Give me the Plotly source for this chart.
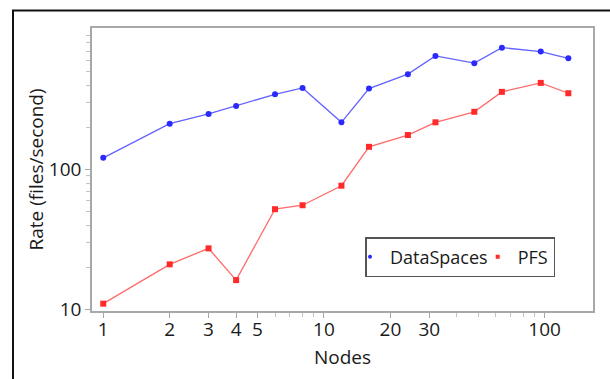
import plotly.graph_objects as go

# Throughput measurements per node count
nodes = [1, 2, 3, 4, 6, 8, 12, 16, 24, 32, 48, 64, 96, 128]
dataspaces_rate = [121, 212, 249, 284, 344, 382, 217, 378, 479, 647, 574, 741, 694, 622]
pfs_rate = [11.0, 21.0, 27.3, 16.2, 52.0, 55.5, 76.5, 145, 176, 217, 258, 358, 415, 350]

x_tick_vals = [1, 2, 3, 4, 5, 10, 20, 30, 100]
x_tick_text = ["1", "2", "3", "4", "5", "10", "20", "30", "100"]
x_minor_vals = [6, 7, 8, 9, 40, 50, 60, 70, 80, 90]
y_tick_vals = [10, 100]
y_tick_text = ["10", "100"]
y_minor_vals = [20, 30, 40, 50, 60, 70, 80, 90, 200, 300, 400, 500, 600, 700, 800, 900]

FONT = "Open Sans"
TXT = "#1a1a1a"
AXIS_GRAY = "#a8a8a8"
BLUE_MARK = "#2a2aff"
RED_MARK = "#ff2a2a"

fig = go.Figure()
fig.add_trace(go.Scatter(
    x=nodes, y=dataspaces_rate, name="DataSpaces", mode="lines+markers",
    line=dict(color="rgba(70,70,255,0.85)", width=1.3),
    marker=dict(symbol="circle", size=6, color=BLUE_MARK),
    legendgroup="ds", showlegend=False,
))
fig.add_trace(go.Scatter(
    x=nodes, y=pfs_rate, name="PFS", mode="lines+markers",
    line=dict(color="rgba(255,80,80,0.85)", width=1.3),
    marker=dict(symbol="square", size=6, color=RED_MARK),
    legendgroup="pfs", showlegend=False,
))
# Legend entries show only a small marker, no line
fig.add_trace(go.Scatter(
    x=[None], y=[None], name="DataSpaces", mode="markers",
    marker=dict(symbol="circle", size=4, color=BLUE_MARK),
    legendgroup="ds", showlegend=True,
))
fig.add_trace(go.Scatter(
    x=[None], y=[None], name="PFS", mode="markers",
    marker=dict(symbol="square", size=4, color=RED_MARK),
    legendgroup="pfs", showlegend=True,
))

L, R, T, B = 92, 17, 28, 68
W, H = 610, 379
pw, ph = W - L - R, H - T - B


def px_x(p):
    return (p - L) / pw


def px_y(p):
    return (H - B - p) / ph


fig.update_layout(
    width=W, height=H,
    margin=dict(l=L, r=R, t=T, b=B),
    paper_bgcolor="white", plot_bgcolor="white",
    font=dict(family=FONT, size=19, color=TXT),
    showlegend=True,
    legend=dict(
        orientation="h",
        x=px_x(365), y=px_y(237), xanchor="left", yanchor="top",
        bgcolor="white", bordercolor="#555555", borderwidth=1.5,
        font=dict(family=FONT, size=18, color=TXT),
        itemsizing="trace", itemwidth=30,
        indentation=-15,
        tracegroupgap=0,
    ),
    xaxis=dict(
        type="log", range=[-0.051, 2.219],
        title=dict(text="Nodes", font=dict(size=19), standoff=10),
        tickmode="array", tickvals=x_tick_vals, ticktext=x_tick_text,
        ticks="outside", ticklen=5, tickcolor=AXIS_GRAY, tickwidth=1,
        ticklabelstandoff=-5,
        showgrid=False, zeroline=False,
        showline=True, linecolor=AXIS_GRAY, linewidth=1.5, mirror=True,
        minor=dict(tickmode="array", tickvals=x_minor_vals, ticks="outside",
                   ticklen=4, tickcolor="#c4c4c4", tickwidth=1, showgrid=False),
        tickfont=dict(size=19),
        automargin=False,
    ),
    yaxis=dict(
        type="log", range=[0.989, 3.01],
        title=dict(text="Rate (files/second)", font=dict(size=19), standoff=0),
        tickmode="array", tickvals=y_tick_vals, ticktext=y_tick_text,
        ticks="outside", ticklen=5, tickcolor=AXIS_GRAY, tickwidth=1,
        showgrid=False, zeroline=False,
        showline=True, linecolor=AXIS_GRAY, linewidth=1.5, mirror=True,
        minor=dict(tickmode="array", tickvals=y_minor_vals, ticks="outside",
                   ticklen=4, tickcolor="#c4c4c4", tickwidth=1, showgrid=False),
        tickfont=dict(size=19),
        automargin=False,
    ),
    shapes=[dict(
        type="rect", xref="paper", yref="paper",
        x0=px_x(13), x1=px_x(640), y0=px_y(420), y1=px_y(10.5),
        line=dict(color="#111111", width=2), fillcolor="rgba(0,0,0,0)",
        layer="below",
    )],
)

fig.write_html("out.html")
